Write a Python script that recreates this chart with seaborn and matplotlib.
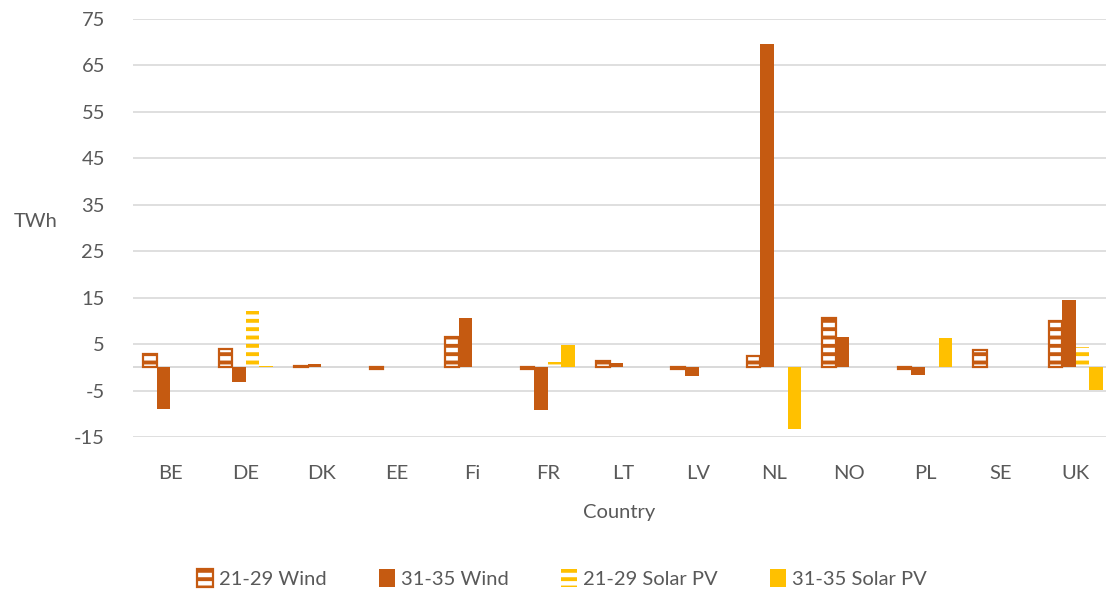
import pandas as pd
import numpy as np
import matplotlib.pyplot as plt
import seaborn as sns
from matplotlib.patches import Patch

countries = ["BE", "DE", "DK", "EE", "Fi", "FR", "LT", "LV", "NL", "NO", "PL", "SE", "UK"]
series = ["21-29 Wind", "31-35 Wind", "21-29 Solar PV", "31-35 Solar PV"]

wind_21_29 = [2.8, 3.9, 0.4, -0.4, 6.5, -0.3, 1.4, -0.3, 2.4, 10.6, -0.3, 3.8, 9.9]
wind_31_35 = [-9.0, -3.1, 0.7, 0.0, 10.6, -9.2, 0.9, -1.8, 69.6, 6.6, -1.6, 0.0, 14.6]
solar_21_29 = [0.0, 12.1, 0.0, 0.0, 0.0, 1.2, 0.0, 0.0, 0.0, 0.0, 0.0, 0.0, 4.4]
solar_31_35 = [0.0, 0.4, 0.0, 0.0, 0.0, 4.8, 0.0, 0.0, -13.3, 0.0, 6.4, 0.0, -4.8]

yticks = list(range(-15, 76, 10))

ORANGE = "#C55A11"
YELLOW = "#FFC000"
TEXT = "#595959"
GRID = "#D9D9D9"
FS = 14.5

rows = []
for name, vals in zip(series, [wind_21_29, wind_31_35, solar_21_29, solar_31_35]):
    for c, v in zip(countries, vals):
        rows.append({"Country": c, "Series": name, "TWh": v})
df = pd.DataFrame(rows)

sns.set_theme(style="white")
plt.rcParams["font.family"] = ["Lato", "DejaVu Sans"]
plt.rcParams["hatch.linewidth"] = 2.8
plt.rcParams["axes.unicode_minus"] = False

fig = plt.figure(figsize=(11.06, 5.95), dpi=100)
ax = fig.add_axes([0.120, 0.2655, 0.880, 0.7025])

sns.barplot(data=df, x="Country", y="TWh", hue="Series", hue_order=series,
            palette=[ORANGE, ORANGE, YELLOW, YELLOW], width=0.72,
            errorbar=None, ax=ax, legend=False)

# style each series
for i, cont in enumerate(ax.containers):
    for bar in cont:
        if i == 0:
            bar.set_facecolor("white")
            bar.set_edgecolor(ORANGE)
            bar.set_linewidth(1.6)
            bar.set_hatch("--")
        elif i == 1:
            bar.set_facecolor(ORANGE)
            bar.set_linewidth(0)
        elif i == 2:
            bar.set_facecolor("none")
            bar.set_edgecolor(YELLOW)
            bar.set_linewidth(0)
            bar.set_hatch("--")
        else:
            bar.set_facecolor(YELLOW)
            bar.set_linewidth(0)

ax.set_ylim(-15, 75)
ax.set_xlim(-0.5, 12.4)
ax.set_yticks(yticks)
ax.yaxis.grid(True, color=GRID, lw=1.2)
ax.axhline(0, color=GRID, lw=1.4, zorder=0.5)
ax.set_axisbelow(True)
for s in ax.spines.values():
    s.set_visible(False)
ax.tick_params(axis="both", length=0, labelsize=FS, labelcolor=TEXT)
ax.tick_params(axis="y", pad=20)
ax.tick_params(axis="x", pad=20)

ax.set_xlabel("Country", fontsize=FS, color=TEXT, labelpad=16)
ax.set_ylabel("TWh", fontsize=FS, color=TEXT, rotation=0, labelpad=0)
ax.yaxis.set_label_coords(-0.100, 0.495)

handles = [
    Patch(facecolor="white", edgecolor=ORANGE, linewidth=1.6, hatch="--", label=series[0]),
    Patch(facecolor=ORANGE, edgecolor=ORANGE, linewidth=0, label=series[1]),
    Patch(facecolor="none", edgecolor=YELLOW, linewidth=0, hatch="--", label=series[2]),
    Patch(facecolor=YELLOW, edgecolor=YELLOW, linewidth=0, label=series[3]),
]
leg = fig.legend(handles=handles, loc="lower center", bbox_to_anchor=(0.508, -0.018),
                 ncol=4, frameon=False, fontsize=FS, handlelength=0.8,
                 handleheight=1.0, handletextpad=0.3, columnspacing=2.6)
for t in leg.get_texts():
    t.set_color(TEXT)

fig.savefig("out.png", dpi=100)
